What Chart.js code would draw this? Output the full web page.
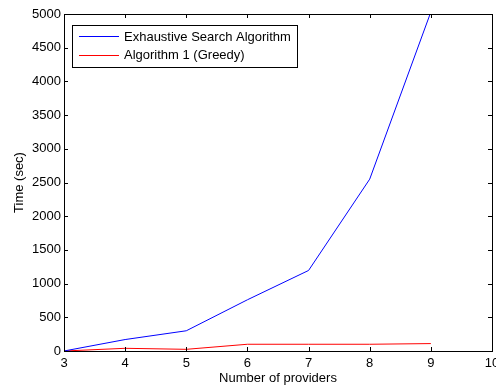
<!DOCTYPE html>
<html>
<head>
	<meta charset="utf-8">
	<title>Running time</title>
	<style>
		html, body { margin: 0; padding: 0; background: #fff; }
		.wrap { width: 496px; height: 386px; }
	</style>
</head>
<body>
	<div class="wrap"><canvas id="chart" width="496" height="386"></canvas></div>
	<script src="https://cdn.jsdelivr.net/npm/chart.js@4/dist/chart.umd.min.js"></script>
	<script>
		'use strict'

		// number of providers
		const providers = [3, 4, 5, 6, 7, 8, 9]
		// time in seconds
		const exhaustive = [0, 170, 300, 760, 1195, 2550, 5030]
		const greedy = [0, 40, 25, 100, 100, 100, 110]
		const xTicks = [3, 4, 5, 6, 7, 8, 9, 10]
		const yTicks = [0, 500, 1000, 1500, 2000, 2500, 3000, 3500, 4000, 4500, 5000]

		const font = { family: 'Liberation Sans, Arial, sans-serif', size: 13 }

		// matlab style box: ticks point inward, mirrored on top and right
		const boxTicks = {
			id: 'boxTicks',
			afterDraw(chart) {
				const { ctx, chartArea: a, scales } = chart
				const len = 4
				ctx.save()
				ctx.strokeStyle = '#000'
				ctx.lineWidth = 1
				ctx.beginPath()
				xTicks.forEach(v => {
					const x = Math.round(scales.x.getPixelForValue(v)) + 0.5
					ctx.moveTo(x, a.bottom); ctx.lineTo(x, a.bottom - len)
					ctx.moveTo(x, a.top); ctx.lineTo(x, a.top + len)
				})
				yTicks.forEach(v => {
					const y = Math.round(scales.y.getPixelForValue(v)) + 0.5
					ctx.moveTo(a.left, y); ctx.lineTo(a.left + len, y)
					ctx.moveTo(a.right, y); ctx.lineTo(a.right - len, y)
				})
				ctx.stroke()
				ctx.strokeRect(Math.round(a.left) + 0.5, Math.round(a.top) + 0.5,
					Math.round(a.right - a.left), Math.round(a.bottom - a.top))
				ctx.restore()
			}
		}

		// legend box inside the upper left corner
		const boxLegend = {
			id: 'boxLegend',
			afterDraw(chart) {
				const { ctx, chartArea: a } = chart
				const x0 = a.left + 8, y0 = a.top + 11
				const w = 225, h = 42
				ctx.save()
				ctx.fillStyle = '#fff'
				ctx.fillRect(x0, y0, w, h)
				ctx.strokeStyle = '#000'
				ctx.lineWidth = 1
				ctx.strokeRect(x0 + 0.5, y0 + 0.5, w, h)
				ctx.font = font.size + 'px ' + font.family
				ctx.textBaseline = 'middle'
				chart.data.datasets.forEach((ds, i) => {
					const y = y0 + 11 + i * 18.5
					ctx.strokeStyle = ds.borderColor
					ctx.beginPath()
					ctx.moveTo(x0 + 7, Math.round(y) + 0.5)
					ctx.lineTo(x0 + 47, Math.round(y) + 0.5)
					ctx.stroke()
					ctx.fillStyle = '#000'
					ctx.fillText(ds.label, x0 + 52, y + 1)
				})
				ctx.restore()
			}
		}

		const config = {
			type: 'line',
			data: {
				labels: providers,
				datasets: [{
					label: 'Exhaustive Search Algorithm',
					data: providers.map((p, i) => ({ x: p, y: exhaustive[i] })),
					borderColor: '#0000ff',
					borderWidth: 1,
					pointRadius: 0,
					tension: 0
				}, {
					label: 'Algorithm 1 (Greedy)',
					data: providers.map((p, i) => ({ x: p, y: greedy[i] })),
					borderColor: '#ff0000',
					borderWidth: 1,
					pointRadius: 0,
					tension: 0
				}]
			},
			options: {
				responsive: false,
				animation: false,
				layout: { padding: { top: 14, right: 4, left: 0, bottom: 0 } },
				plugins: {
					legend: { display: false },
					tooltip: { enabled: false }
				},
				scales: {
					x: {
						type: 'linear',
						min: 3,
						max: 10,
						afterBuildTicks: s => { s.ticks = xTicks.map(v => ({ value: v })) },
						afterFit: s => { s.height = 35; s.paddingLeft = 0; s.paddingRight = 0 },
						grid: { display: false, drawTicks: false },
						border: { display: false },
						ticks: { color: '#000', font, padding: 5, maxRotation: 0, callback: v => String(v) },
						title: { display: true, text: 'Number of providers', color: '#000', font, padding: { top: 0, bottom: 0 } }
					},
					y: {
						type: 'linear',
						min: 0,
						max: 5000,
						afterBuildTicks: s => { s.ticks = yTicks.map(v => ({ value: v })) },
						afterFit: s => { s.width = 64; s.paddingTop = 0; s.paddingBottom = 0 },
						grid: { display: false, drawTicks: false },
						border: { display: false },
						ticks: { color: '#000', font, padding: 3, callback: v => String(v) },
						title: { display: true, text: 'Time (sec)', color: '#000', font, padding: { top: 12, bottom: 0 } }
					}
				}
			},
			plugins: [boxTicks, boxLegend]
		}

		new Chart(document.getElementById('chart'), config)
	</script>
</body>
</html>
